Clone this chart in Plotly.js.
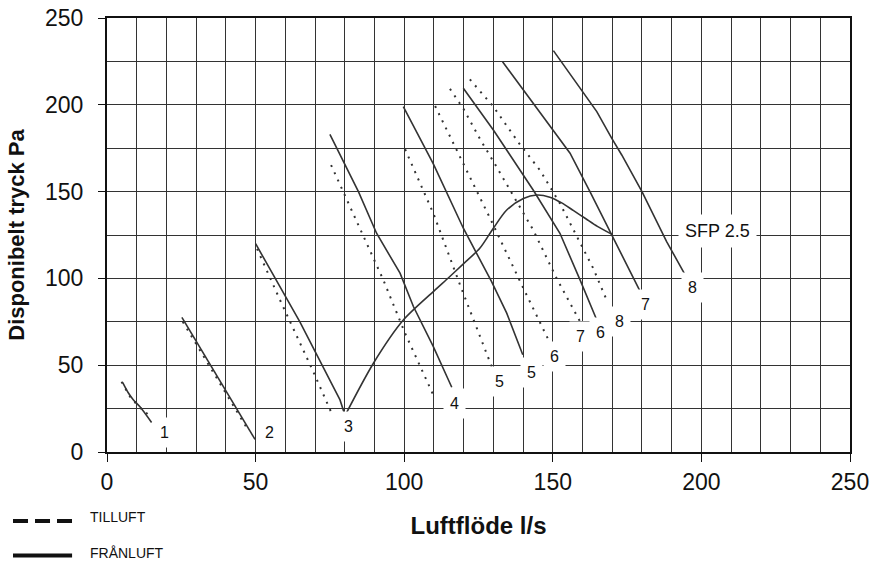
<!DOCTYPE html>
<html>
<head>
<meta charset="utf-8">
<script src="https://cdn.plot.ly/plotly-3.0.1.min.js"></script>
<style>html,body{margin:0;padding:0;background:#fff;}#chart{width:875px;height:566px;}</style>
</head>
<body>
<div id="chart"></div>
<script>
// ---- data ----
const sol1x = [5.3, 7.2, 8.9, 11.1, 15.0];
const sol1y = [40, 34, 30, 26, 17];
const dash1x = [4.9, 7.7, 10.5, 14.2];
const dash1y = [40.5, 32, 26.5, 21];

const sol2x = [25.2, 49.8];
const sol2y = [77.6, 7.3];
const dash2x = [25.5, 47];
const dash2y = [75, 14];

const sol3x = [50, 64.9, 76.1, 78.4, 80.1];
const sol3y = [120, 75, 37.6, 30, 21];
const dash3x = [50.5, 58.2, 69.4, 75.6];
const dash3y = [117, 87.6, 46.3, 22.3];

const sol4x = [75, 84.6, 90.7, 98.6, 103.1, 109.8, 116];
const sol4y = [183, 150, 126, 103, 83.8, 60.7, 37.3];
const dash4x = [75.4, 83.4, 93, 100.3, 109.8];
const dash4y = [165.3, 134.7, 99, 68.4, 32.8];

const sol5x = [99.7, 109.8, 119.9, 129.4, 134.5, 139.9];
const sol5y = [198.9, 166, 128.9, 98.1, 80, 56];
const dash5x = [100.3, 109.8, 118.8, 129.8];
const dash5y = [174.4, 137.5, 96.2, 47.6];

const sol6x = [119.9, 130, 143.4, 152.4, 159.2, 164.8];
const sol6y = [209.5, 185.5, 150.9, 126, 99, 76];
const dash6x = [110.4, 119.9, 128.9, 140.1, 149.1];
const dash6y = [199.3, 166.3, 134.6, 94.3, 62.6];

const sol7x = [133.1, 150.2, 155.8, 162.5, 169.8, 174.9, 179.6];
const sol7y = [224.8, 185.5, 172.1, 150, 125.4, 107.7, 91.8];
const dash7x = [115.4, 120, 125.5, 131, 143.4, 151.3, 159.2];
const dash7y = [209.2, 197.5, 180.3, 164.5, 127.9, 100, 75];

const sol8x = [150.2, 159.2, 164.8, 169.8, 173.2, 180, 188.3, 195];
const sol8y = [231.2, 209.5, 196.1, 180.8, 171.1, 150, 121.2, 100.6];
const dash8x = [122.1, 130, 134.5, 139, 145.7, 152.4, 163.6, 168.5];
const dash8y = [214.6, 199, 187.9, 177, 162.3, 143.2, 105.8, 86];

const sfpx = [80.1, 89.6, 99.7, 109.8, 115, 120, 125.5, 130, 134.5, 140.1, 144.6, 149, 153, 157, 161, 165, 169.8];
const sfpy = [21, 51, 76, 92.4, 100.5, 108.5, 117.5, 128.9, 139.4, 146, 148, 146.8, 143.5, 139, 134.5, 130, 125.5];

const labelText = ['1', '2', '3', '4', '5', '5', '6', '7', '6', '8', '7', '8', 'SFP 2.5'];
const labelX = [19.5, 54.8, 81.2, 116.8, 131.9, 142.7, 150.7, 159.2, 165.9, 172.3, 181.1, 196.9, 205.3];
const labelY = [11.1, 11.1, 14.6, 28, 40.5, 45.7, 55.3, 66.8, 68.8, 75.2, 84.8, 94.8, 127.3];

const xTickVals = [0, 50, 100, 150, 200, 250];
const yTickVals = [0, 50, 100, 150, 200, 250];
const legendNames = ['TILLUFT', 'FRÅNLUFT'];

// ---- build ----
const LC = '#333333';
function solid(x, y, shape) {
  return {x: x, y: y, type: 'scatter', mode: 'lines', hoverinfo: 'skip', showlegend: false,
    line: {color: LC, width: 1.6, shape: shape || 'linear', smoothing: 0.8}};
}
function dotted(x, y) {
  return {x: x, y: y, type: 'scatter', mode: 'lines', hoverinfo: 'skip', showlegend: false,
    line: {color: LC, width: 2, dash: '2px,6px'}};
}
const traces = [
  dotted(dash1x, dash1y), solid(sol1x, sol1y, 'spline'),
  dotted(dash2x, dash2y), solid(sol2x, sol2y),
  dotted(dash3x, dash3y), solid(sol3x, sol3y),
  dotted(dash4x, dash4y), solid(sol4x, sol4y),
  dotted(dash5x, dash5y), solid(sol5x, sol5y),
  dotted(dash6x, dash6y), solid(sol6x, sol6y),
  dotted(dash7x, dash7y), solid(sol7x, sol7y),
  dotted(dash8x, dash8y), solid(sol8x, sol8y),
  solid(sfpx, sfpy, 'spline')
];

const FONT = 'Liberation Sans, Arial, sans-serif';
const annotations = labelText.map((t, i) => ({
  x: labelX[i], y: labelY[i], xref: 'x', yref: 'y', text: t, showarrow: false,
  font: {family: FONT, size: t.length > 2 ? 18 : 16, color: '#111'},
  bgcolor: '#ffffff', borderpad: 6, xanchor: 'center', yanchor: 'middle'
}));
annotations.push(
  {xref: 'paper', yref: 'paper', x: -0.0256, y: -0.150, text: legendNames[0], showarrow: false,
   xanchor: 'left', yanchor: 'middle', font: {family: FONT, size: 14, color: '#111'}},
  {xref: 'paper', yref: 'paper', x: -0.0256, y: -0.2327, text: legendNames[1], showarrow: false,
   xanchor: 'left', yanchor: 'middle', font: {family: FONT, size: 14, color: '#111'}}
);

const shapes = [
  {type: 'line', xref: 'paper', yref: 'paper', x0: -0.1265, x1: -0.047, y0: -0.159, y1: -0.159,
   line: {color: '#111', width: 4, dash: '15px,7px'}},
  {type: 'line', xref: 'paper', yref: 'paper', x0: -0.1265, x1: -0.047, y0: -0.2385, y1: -0.2385,
   line: {color: '#111', width: 4}}
];

const layout = {
  width: 875, height: 566,
  margin: {l: 107, r: 25, t: 18, b: 114, pad: 0},
  paper_bgcolor: '#fff', plot_bgcolor: '#fff',
  font: {family: FONT, color: '#111'},
  showlegend: false,
  xaxis: {
    range: [0, 250], tickvals: xTickVals, ticks: 'outside', ticklen: 8, tickwidth: 1, tickcolor: '#111',
    ticklabelstandoff: 0,
    showgrid: true, gridcolor: '#333', gridwidth: 1,
    minor: {dtick: 10, showgrid: true, gridcolor: '#333', gridwidth: 1, ticks: ''},
    showline: true, linecolor: '#111', linewidth: 2, mirror: true, zeroline: false,
    tickfont: {family: FONT, size: 23, color: '#111'},
    title: {text: 'Luftflöde l/s', font: {family: FONT, size: 24, color: '#111', weight: 'bold'}, standoff: 24}
  },
  yaxis: {
    range: [0, 250], tickvals: yTickVals, ticks: 'outside', ticklen: 7, tickwidth: 1, tickcolor: '#111',
    ticklabelstandoff: 10,
    showgrid: true, gridcolor: '#333', gridwidth: 1,
    minor: {dtick: 25, showgrid: true, gridcolor: '#333', gridwidth: 1, ticks: ''},
    showline: true, linecolor: '#111', linewidth: 2, mirror: true, zeroline: false,
    tickfont: {family: FONT, size: 23, color: '#111'},
    title: {text: 'Disponibelt tryck Pa', font: {family: FONT, size: 22, color: '#111', weight: 'bold'}, standoff: 14}
  },
  annotations: annotations,
  shapes: shapes
};

Plotly.newPlot('chart', traces, layout, {displayModeBar: false, staticPlot: true});
</script>
</body>
</html>
